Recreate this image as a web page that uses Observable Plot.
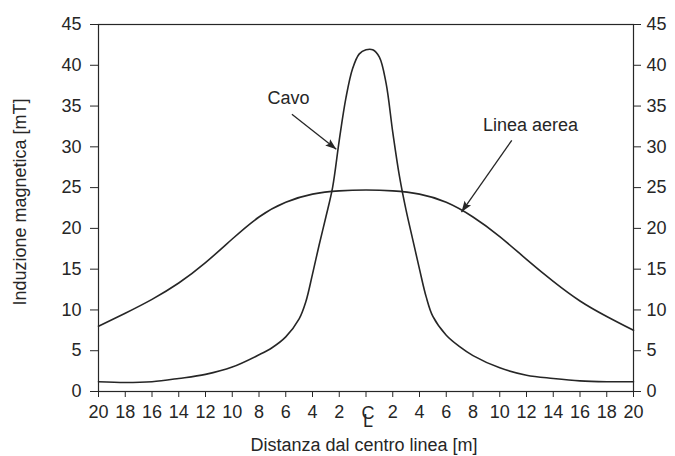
<!DOCTYPE html>
<html>
<head>
<meta charset="utf-8">
<script src="https://cdn.jsdelivr.net/npm/d3@7"></script>
<script src="https://cdn.jsdelivr.net/npm/@observablehq/plot@0.6"></script>
<style>
  body { margin: 0; background: #fff; }
  svg { display: block; }
</style>
</head>
<body>
<div id="chart"></div>
<script>
// ---- data ----
const xTicks = [-20,-18,-16,-14,-12,-10,-8,-6,-4,-2,0,2,4,6,8,10,12,14,16,18,20];
const yTicks = [0,5,10,15,20,25,30,35,40,45];

const cavoX = [-20,-18,-16,-14,-12,-10,-8,-7,-6,-5,-4.5,-4,-3.5,-3,-2.5,-2,-1.5,-1,-0.5,0,0.5,1,1.5,2,2.5,3,3.5,4,4.5,5,6,7,8,10,12,14,16,18,20];
const cavoY = [1.2,1.1,1.2,1.6,2.1,3.0,4.5,5.4,6.7,8.9,11.0,14.4,18.0,21.4,25.0,30.8,36.0,39.6,41.4,41.9,41.9,41.0,37.8,31.8,26.4,22.2,18.6,15.0,11.6,9.2,6.9,5.5,4.4,2.9,2.0,1.6,1.3,1.2,1.2];

const aereaX = [-20,-18,-16,-14,-12,-10,-8,-6,-4,-2,0,2,4,6,8,10,12,14,16,18,20];
const aereaY = [8.0,9.6,11.3,13.3,15.8,18.7,21.4,23.2,24.2,24.6,24.7,24.6,24.2,23.2,21.4,19.0,16.2,13.5,11.1,9.2,7.5];

const annotText = ["Cavo", "Linea aerea"];
const annotX = [-5.8, 12.3];
const annotY = [35.9, 32.6];
const arrowX1 = [-5.54, 10.9];
const arrowY1 = [34.0, 30.8];
const arrowX2 = [-2.22, 7.14];
const arrowY2 = [29.7, 22.0];

// ---- layout ----
const W = 675, H = 456, ML = 98, MR = 42, MT = 24, MB = 65;
const ink = "#262626";
const font = "'Liberation Sans', Arial, Helvetica, sans-serif";

const cavo = cavoX.map((x, i) => ({x, y: cavoY[i]}));
const aerea = aereaX.map((x, i) => ({x, y: aereaY[i]}));

const kx = (W - ML - MR) / 40, ky = (H - MT - MB) / 45;
const arrows = annotText.map((t, i) => {
  const dx = (arrowX2[i] - arrowX1[i]) * kx;
  const dy = -(arrowY2[i] - arrowY1[i]) * ky;
  return {
    x1: arrowX1[i], y1: arrowY1[i], x2: arrowX2[i], y2: arrowY2[i],
    angle: Math.atan2(dx, -dy) * 180 / Math.PI
  };
});
const annots = annotText.map((t, i) => ({text: t, x: annotX[i], y: annotY[i]}));

// filled arrowhead with its tip at the origin, pointing up
const arrowHead = {
  draw(ctx) {
    ctx.moveTo(0, 0);
    ctx.lineTo(-4, 11);
    ctx.lineTo(0, 9);
    ctx.lineTo(4, 11);
    ctx.closePath();
  }
};

const chart = Plot.plot({
  width: W, height: H,
  marginLeft: ML, marginRight: MR, marginTop: MT, marginBottom: MB,
  style: {fontFamily: font, fontSize: "18px", color: ink, background: "#fff"},
  x: {domain: [-20, 20]},
  y: {domain: [0, 45]},
  marks: [
    Plot.frame({stroke: ink, strokeWidth: 1.2}),
    Plot.axisX({ticks: xTicks, tickFormat: d => d === 0 ? "" : String(Math.abs(d)), tickSize: 6, tickPadding: 8, label: null}),
    Plot.axisY({anchor: "left", ticks: yTicks, tickSize: 8, tickPadding: 9, label: null}),
    Plot.axisY({anchor: "right", ticks: yTicks, tickSize: 7, tickPadding: 6, label: null}),
    Plot.line(aerea, {x: "x", y: "y", curve: "natural", stroke: ink, strokeWidth: 1.6}),
    Plot.line(cavo, {x: "x", y: "y", curve: "catmull-rom", stroke: ink, strokeWidth: 1.6}),
    Plot.link(arrows, {x1: "x1", y1: "y1", x2: "x2", y2: "y2", stroke: ink, strokeWidth: 1.3}),
    Plot.dot(arrows, {x: "x2", y: "y2", symbol: arrowHead, rotate: "angle", fill: ink, stroke: "none", r: 5}),
    Plot.text(annots, {x: "x", y: "y", text: "text", fontSize: 18, fill: ink}),
    // centre-line symbol (C over L) under the 0 tick
    Plot.text([0], {x: d => d, y: () => 0, text: () => "C\nL", lineHeight: 0.42, dy: 29, dx: 2, fontSize: 18, fill: ink}),
    // axis titles
    Plot.text(["Distanza dal centro linea [m]"], {frameAnchor: "bottom", textAnchor: "middle", lineAnchor: "middle", text: d => d, dy: 54, dx: -2, fontSize: 18, fill: ink}),
    Plot.text(["Induzione magnetica [mT]"], {frameAnchor: "left", textAnchor: "middle", lineAnchor: "middle", text: d => d, rotate: -90, dx: -78, dy: -6, fontSize: 18, fill: ink})
  ]
});
document.getElementById("chart").appendChild(chart);
</script>
</body>
</html>
